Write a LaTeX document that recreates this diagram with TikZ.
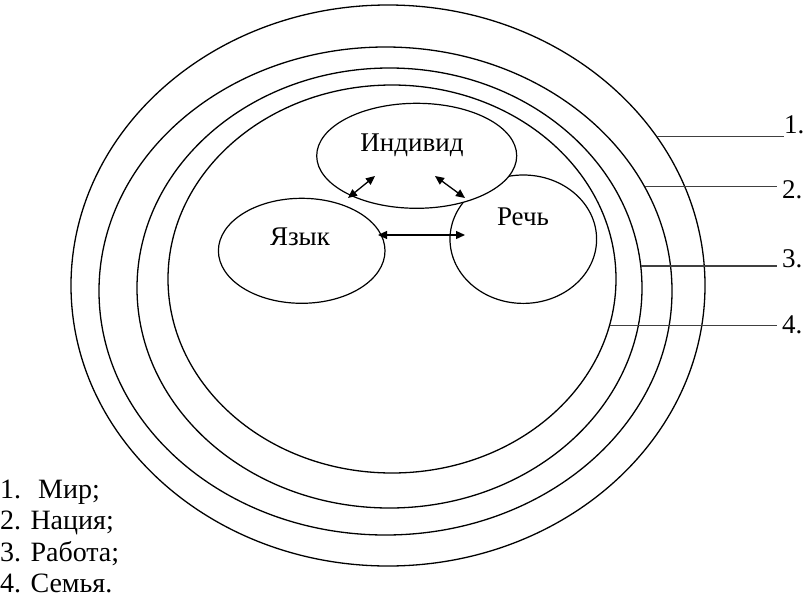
\documentclass[tikz,border=0pt]{standalone}
\usepackage{fontspec}
\setmainfont{Liberation Serif}
\usetikzlibrary{arrows.meta,shapes.geometric}
\begin{document}
\begin{tikzpicture}[x=1pt,y=-1pt,
 ring/.style={draw, ellipse, inner sep=0pt, line width=1.3pt},
 blob/.style={draw, ellipse, inner sep=0pt, line width=1.2pt, fill=white},
 word/.style={font=\fontsize{27}{32}\selectfont, inner sep=0pt, anchor=base},
 num/.style={font=\fontsize{27}{32}\selectfont, inner sep=0pt, anchor=base west},
 leg/.style={font=\fontsize{28}{31}\selectfont, inner sep=0pt, anchor=base west},
 lead/.style={draw=black!75, line width=1.1pt},
 dbl/.style={{Triangle[length=9pt,width=8pt]}-{Triangle[length=9pt,width=8pt]}, line width=1.3pt}
]
\useasboundingbox (0,0) rectangle (806,600);
% rings
\node[ring, minimum width=634pt, minimum height=561pt] (r1) at (388,285.5) {};
\node[ring, minimum width=573pt, minimum height=488pt] (r2) at (385.5,291) {};
\node[ring, minimum width=505pt, minimum height=440pt] (r3) at (389.5,288) {};
\node[ring, minimum width=448pt, minimum height=388pt] (r4) at (392,279) {};
% inner ellipses
\node[blob, minimum width=146.6pt, minimum height=128.4pt] (rech) at (523.3,239.2) {};
\node[blob, minimum width=200pt, minimum height=105pt] (ind) at (416.7,155.8) {};
\node[blob, minimum width=166.6pt, minimum height=105pt] (yaz) at (301.7,250.8) {};
\node[word] (tind) at (412,151.7) {Индивид};
\node[word] (tyaz) at (300,245) {Язык};
\node[word] (trech) at (523,225) {Речь};
% arrows
\coordinate (a1s) at (348,198);
\coordinate (a1e) at (375,176);
\coordinate (a2s) at (435,176);
\coordinate (a2e) at (465,198);
\coordinate (a3s) at (378,235);
\coordinate (a3e) at (465,235);
\draw[dbl] (a1s) -- (a1e);
\draw[dbl] (a2s) -- (a2e);
\draw[dbl] (a3s) -- (a3e);
% right labels
\node[num] (l1) at (784,133) {1.};
\node[num] (l2) at (782,198) {2.};
\node[num] (l3) at (782,267) {3.};
\node[num] (l4) at (782,333) {4.};
\draw[lead] (r1.29.4) -- (r1.29.4 -| l1.west);
\draw[lead, shorten >=5pt] (r2.22.1) -- (r2.22.1 -| l2.west);
\draw[lead, shorten >=5pt] (r3.5.9) -- (r3.5.9 -| l3.west);
\draw[lead, shorten >=5pt] (r4.-12.8) -- (r4.-12.8 -| l4.west);
% legend
\node[leg] (g1) at (0,498) {1.\hspace{17pt}Мир;};
\node[leg] (g2) at (0,529.5) {2. Нация;};
\node[leg] (g3) at (0,561) {3. Работа;};
\node[leg] (g4) at (0,592) {4. Семья.};
\end{tikzpicture}
\end{document}
